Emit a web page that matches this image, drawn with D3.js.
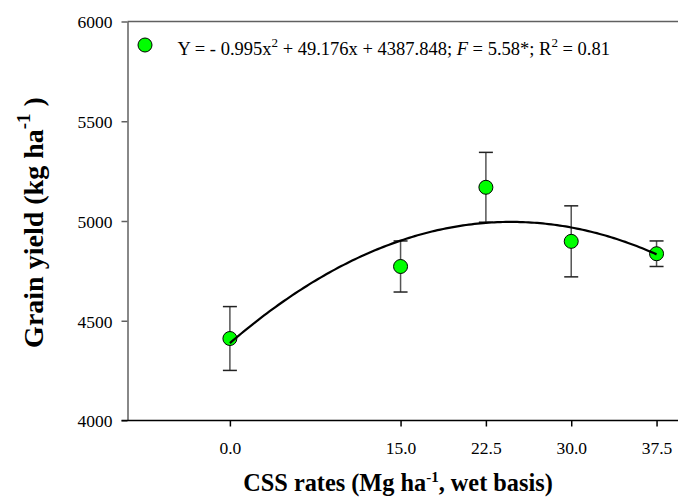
<!DOCTYPE html>
<html>
<head>
<meta charset="utf-8">
<script src="https://cdn.jsdelivr.net/npm/d3@7"></script>
<style>
  body { margin: 0; background: #fff; }
  svg { display: block; font-family: "Liberation Serif", "Times New Roman", serif; }
</style>
</head>
<body>
<script>
// CSS application rates (Mg/ha, wet basis) and grain yield
const rates = [0, 15, 22.5, 30, 37.5];
const yieldMean = [4411, 4772, 5169, 4898, 4836];
const yieldErr = [160, 128, 175, 178, 64];
const xTicks = [0, 15, 22.5, 30, 37.5];
const yTicks = [4000, 4500, 5000, 5500, 6000];
// quadratic fit shown in the legend: c0 + c1*x + c2*x^2
const fitCoef = [4387.848, 49.176, -0.995];

const width = 678;
const height = 499;

const svg = d3.select("body").append("svg").attr("width", width).attr("height", height);

const x = d3.scaleLinear().domain([-9, 40]).range([127.5, 685]);
const y = d3.scaleLinear().domain([4000, 6000]).range([420.5, 21.5]);

const gray = "#606060";

// top frame line
svg
  .append("line")
  .attr("x1", x(-9))
  .attr("x2", x(40))
  .attr("y1", y(6000))
  .attr("y2", y(6000))
  .attr("stroke", gray)
  .attr("stroke-width", 1.5);

// y axis
const yAxis = svg
  .append("g")
  .attr("transform", `translate(${x(-9)},0)`)
  .call(d3.axisLeft(y).tickValues(yTicks).tickSize(6).tickSizeOuter(0).tickPadding(9).tickFormat(d3.format("d")));
yAxis.select(".domain").attr("stroke", gray).attr("stroke-width", 1.5);
yAxis.selectAll(".tick line").attr("stroke", gray).attr("stroke-width", 1.5);
yAxis
  .selectAll(".tick text")
  .attr("dy", "0.37em")
  .attr("font-size", "17.5px")
  .attr("font-family", "Liberation Serif")
  .attr("fill", "#000");

// x axis
const xAxis = svg
  .append("g")
  .attr("transform", `translate(0,${y(4000)})`)
  .call(d3.axisBottom(x).tickValues(xTicks).tickSize(6).tickSizeOuter(0).tickFormat(d3.format(".1f")));
xAxis.select(".domain").attr("stroke", "#000").attr("stroke-width", 1.5).attr("d", `M${x(-9) - 6},0H${x(40)}`);
xAxis.selectAll(".tick line").attr("stroke", "#000").attr("stroke-width", 1.5);
xAxis
  .selectAll(".tick text")
  .attr("dy", null)
  .attr("y", 33)
  .attr("font-size", "17.5px")
  .attr("font-family", "Liberation Serif")
  .attr("fill", "#000");

// error bars
const pts = rates.map((r, i) => ({ r, m: yieldMean[i], e: yieldErr[i] }));

const bars = svg.append("g");
bars
  .selectAll("line.stem")
  .data(pts)
  .enter()
  .append("line")
  .attr("class", "stem")
  .attr("x1", (d) => x(d.r))
  .attr("x2", (d) => x(d.r))
  .attr("y1", (d) => y(d.m - d.e))
  .attr("y2", (d) => y(d.m + d.e))
  .attr("stroke", "#555")
  .attr("stroke-width", 1.5);
["top", "bot"].forEach((k) => {
  bars
    .selectAll(`line.cap-${k}`)
    .data(pts)
    .enter()
    .append("line")
    .attr("x1", (d) => x(d.r) - 7)
    .attr("x2", (d) => x(d.r) + 7)
    .attr("y1", (d) => y(k === "top" ? d.m + d.e : d.m - d.e))
    .attr("y2", (d) => y(k === "top" ? d.m + d.e : d.m - d.e))
    .attr("stroke", "#222")
    .attr("stroke-width", 1.5);
});

// points
svg
  .append("g")
  .selectAll("circle")
  .data(pts)
  .enter()
  .append("circle")
  .attr("cx", (d) => x(d.r))
  .attr("cy", (d) => y(d.m))
  .attr("r", 7)
  .attr("fill", "#00ff00")
  .attr("stroke", "#000")
  .attr("stroke-width", 1);

// fitted curve
const fitX = d3.range(0, 37.5 + 1e-9, 0.25);
const fit = (v) => fitCoef[0] + fitCoef[1] * v + fitCoef[2] * v * v;
svg
  .append("path")
  .datum(fitX)
  .attr("fill", "none")
  .attr("stroke", "#000")
  .attr("stroke-width", 2.2)
  .attr("d", d3.line().x((d) => x(d)).y((d) => y(fit(d))));

// legend
svg
  .append("circle")
  .attr("cx", 145)
  .attr("cy", 45)
  .attr("r", 7)
  .attr("fill", "#00ff00")
  .attr("stroke", "#000")
  .attr("stroke-width", 1);

const leg = svg.append("text").attr("x", 177.5).attr("y", 54.5).attr("font-size", "18.5px");
leg.append("tspan").text("Y = - 0.995x");
leg.append("tspan").attr("dy", -8).attr("font-size", "13px").text("2");
leg.append("tspan").attr("dy", 8).text(" + 49.176x + 4387.848; ");
leg.append("tspan").attr("font-style", "italic").text("F");
leg.append("tspan").text(" = 5.58*; R");
leg.append("tspan").attr("dy", -8).attr("font-size", "13px").text("2");
leg.append("tspan").attr("dy", 8).text(" = 0.81");

// axis titles
const xt = svg
  .append("text")
  .attr("x", 398)
  .attr("y", 491)
  .attr("text-anchor", "middle")
  .attr("font-size", "24.3px")
  .attr("font-weight", "bold");
xt.append("tspan").text("CSS rates (Mg ha");
xt.append("tspan").attr("dy", -9).attr("font-size", "15px").text("-1");
xt.append("tspan").attr("dy", 9).text(", wet basis)");

const yt = svg
  .append("text")
  .attr("transform", "translate(43,222.5) rotate(-90)")
  .attr("text-anchor", "middle")
  .attr("font-size", "28px")
  .attr("font-weight", "bold");
yt.append("tspan").text("Grain yield (kg ha");
yt.append("tspan").attr("dy", -13).attr("font-size", "19px").text("-1");
yt.append("tspan").attr("dy", 13).text(" )");
</script>
</body>
</html>
